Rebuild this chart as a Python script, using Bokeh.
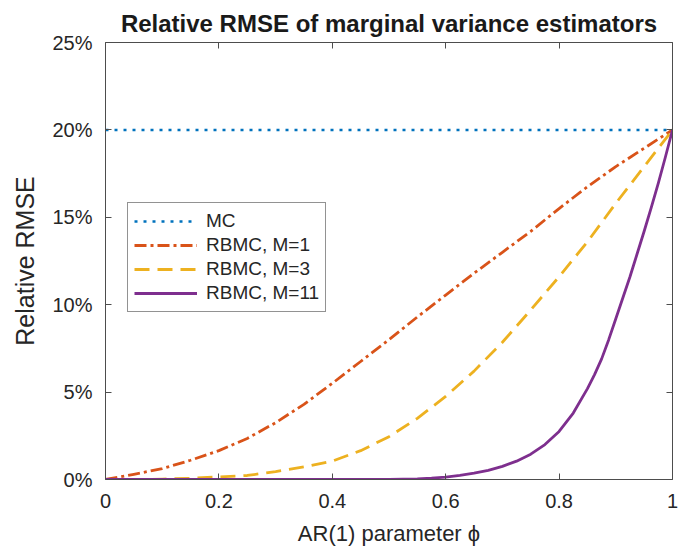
from bokeh.plotting import figure
from bokeh.models import (LinearAxis, FixedTicker, CustomJSTickFormatter, Legend, LegendItem, Range1d)
from bokeh.embed import file_html
from bokeh.resources import INLINE

# ---- data ----
phi = [0.0, 0.05, 0.1, 0.15, 0.2, 0.25, 0.3, 0.35, 0.4, 0.45, 0.5,
       0.55, 0.6, 0.65, 0.7, 0.75, 0.8, 0.85, 0.9, 0.95, 1.0]
mc = [20.0] * len(phi)
rbmc_m1 = [0.0, 0.3, 0.62, 1.1, 1.65, 2.35, 3.25, 4.3, 5.5, 6.75, 8.0,
           9.3, 10.55, 11.8, 13.0, 14.2, 15.5, 16.75, 17.9, 18.95, 20.0]
rbmc_m3 = [0.0, 0.0, 0.02, 0.07, 0.15, 0.23, 0.45, 0.72, 1.05, 1.65, 2.45,
           3.5, 4.75, 6.2, 7.85, 9.7, 11.6, 13.6, 15.8, 17.9, 20.0]
phi_m11 = [0.0, 0.1, 0.2, 0.3, 0.4, 0.5, 0.55, 0.575, 0.6, 0.625, 0.65, 0.675,
           0.7, 0.725, 0.75, 0.775, 0.8, 0.825, 0.85, 0.8625, 0.875, 0.8875, 0.9,
           0.9125, 0.925, 0.9375, 0.95, 0.9625, 0.975, 0.9875, 1.0]
rbmc_m11 = [0.0, 0.0, 0.0, 0.0, 0.0, 0.01, 0.04, 0.08, 0.14, 0.24, 0.36, 0.52,
            0.75, 1.05, 1.45, 2.0, 2.75, 3.8, 5.2, 6.0, 6.9, 8.0, 9.2,
            10.4, 11.6, 12.9, 14.2, 15.55, 16.95, 18.45, 20.0]

x_ticks = [0, 0.2, 0.4, 0.6, 0.8, 1.0]
y_ticks = [0, 5, 10, 15, 20, 25]

labels = ["MC", "RBMC, M=1", "RBMC, M=3", "RBMC, M=11"]
colors = ["#0072BD", "#D95319", "#EDB120", "#7E2F8E"]
x_label = "AR(1) parameter ϕ"
y_label = "Relative RMSE"
title = "Relative RMSE of marginal variance estimators"

FONT = "Liberation Sans"
TXT = "#262626"
AX = "#4d4d4d"

p = figure(width=681, height=548, output_backend="svg", toolbar_location=None,
           x_range=Range1d(0, 1), y_range=Range1d(0, 25),
           min_border_left=105, min_border_right=9, min_border_top=42,
           min_border_bottom=66, title=title)
p.outline_line_color = None
p.grid.visible = False
p.background_fill_color = "white"
p.border_fill_color = "white"

p.title.text_font = FONT
p.title.text_font_size = "24px"
p.title.text_font_style = "bold"
p.title.text_color = "#1a1a1a"
p.title.align = "center"
p.title.standoff = 11

xfmt = CustomJSTickFormatter(code="return String(Math.round(tick*10)/10);")
yfmt = CustomJSTickFormatter(code="return String(Math.round(tick)) + '%';")
blank = CustomJSTickFormatter(code="return '';")

def style_axis(ax, ticks, fmt):
    ax.ticker = FixedTicker(ticks=ticks)
    ax.formatter = fmt
    ax.axis_line_color = AX
    ax.axis_line_width = 1
    ax.major_tick_line_color = AX
    ax.major_tick_in = 6
    ax.major_tick_out = 0
    ax.minor_tick_line_color = None
    ax.major_label_text_font = FONT
    ax.major_label_text_color = TXT
    ax.major_label_text_font_size = "20px"

xa = p.xaxis[0]
ya = p.yaxis[0]
style_axis(xa, x_ticks, xfmt)
style_axis(ya, y_ticks, yfmt)
xa.major_label_standoff = 14
ya.major_label_standoff = 13
xa.axis_label = x_label
ya.axis_label = y_label
for a in (xa, ya):
    a.axis_label_text_font = FONT
    a.axis_label_text_font_style = "normal"
    a.axis_label_text_color = TXT
xa.axis_label_text_font_size = "22px"
ya.axis_label_text_font_size = "25px"
xa.axis_label_text_line_height = 0.8
xa.axis_label_standoff = 10
ya.axis_label_standoff = 10

top = LinearAxis()
style_axis(top, x_ticks, blank)
top.major_label_standoff = 0
p.add_layout(top, "above")
right = LinearAxis()
style_axis(right, y_ticks, blank)
right.major_label_standoff = 0
p.add_layout(right, "right")

r_mc = p.line(phi, mc, line_color=colors[0], line_width=2.5, line_dash="3 6")
r1 = p.line(phi, rbmc_m1, line_color=colors[1], line_width=2.8, line_dash="12 4 3 4",
            line_join="round")
r3 = p.line(phi, rbmc_m3, line_color=colors[2], line_width=2.8, line_dash="15 8",
            line_join="round")
r11 = p.line(phi_m11, rbmc_m11, line_color=colors[3], line_width=2.8, line_join="round")

legend = Legend(items=[LegendItem(label=labels[0], renderers=[r_mc]),
                       LegendItem(label=labels[1], renderers=[r1]),
                       LegendItem(label=labels[2], renderers=[r3]),
                       LegendItem(label=labels[3], renderers=[r11])],
                location=(22, 167))
legend.label_text_font = FONT
legend.label_text_font_size = "19px"
legend.label_text_color = TXT
legend.glyph_width = 63
legend.glyph_height = 24
legend.label_height = 24
legend.spacing = 0
legend.padding = 6
legend.margin = 0
legend.label_standoff = 9
legend.border_line_color = "#262626"
legend.border_line_width = 1
legend.background_fill_color = "white"
legend.background_fill_alpha = 1
p.add_layout(legend, "center")

open("out.html", "w").write(file_html(p, INLINE))
